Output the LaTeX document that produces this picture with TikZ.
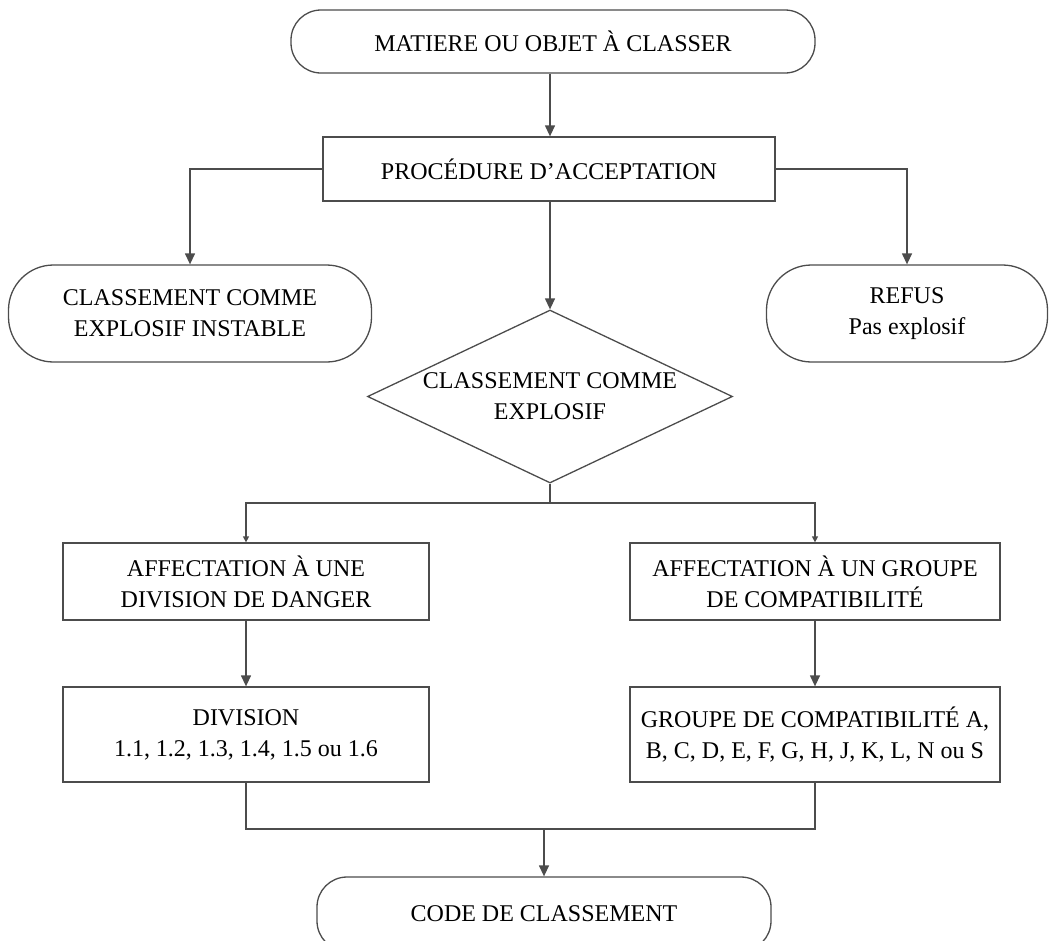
\documentclass[tikz,border=0pt]{standalone}
\usepackage{fontspec}
\setmainfont{Liberation Serif}
\usetikzlibrary{arrows.meta}
\usetikzlibrary{shapes}
\usetikzlibrary{calc}
\tikzstyle{block} = [draw = black!70, line width = 1.3pt, align = center, inner sep = 0]
\tikzstyle{box} = [block, rectangle]
\tikzstyle{terminal} = [block, rounded corners = 30pt]
\tikzstyle{big terminal} = [block, rounded corners = 45pt]
\tikzstyle{decision} = [block, diamond, aspect = 2.1]
\tikzstyle{link} = [draw = black!70, line width = 1.3pt]
\tikzstyle{flow} = [link, -{Triangle[length = 11pt, width = 10pt]}]
\tikzstyle{flow small} = [link, -{Triangle[length = 6pt, width = 6pt]}]

\begin{document}
\begin{tikzpicture}[x = 1pt, y = -1pt,
                    font = \fontsize{24}{31}\selectfont,
                   ]
    \useasboundingbox (0, 0) rectangle (1049, 940);

    \node [terminal, minimum width = 524, minimum height = 63] (start) at (553, 41.5)
        {MATIERE OU OBJET À CLASSER};
    \node [box, minimum width = 452, minimum height = 64] (accept) at (549, 169)
        {PROCÉDURE D’ACCEPTATION};
    \node [big terminal, minimum width = 363, minimum height = 97] (unstable) at (190, 313.5)
        {CLASSEMENT COMME\\EXPLOSIF INSTABLE};
    \node [big terminal, minimum width = 281, minimum height = 97] (refus) at (907, 313.5)
        {REFUS\\Pas explosif};
    \node [decision, minimum width = 365, minimum height = 173] (explosive) at (550, 396.5)
        {CLASSEMENT COMME\\EXPLOSIF};

    \node [box, minimum width = 366, minimum height = 77] (division) at (246, 581.5)
        {AFFECTATION À UNE\\DIVISION DE DANGER};
    \node [box, minimum width = 370, minimum height = 77] (group) at (815, 581.5)
        {AFFECTATION À UN GROUPE\\DE COMPATIBILITÉ};
    \node [box, minimum width = 366, minimum height = 95] (division list) at (246, 734.5)
        {DIVISION\\1.1, 1.2, 1.3, 1.4, 1.5 ou 1.6};
    \node [box, minimum width = 370, minimum height = 95] (group list) at (815, 734.5)
        {GROUPE DE COMPATIBILITÉ A,\\B, C, D, E, F, G, H, J, K, L, N ou S};
    \node [terminal, minimum width = 454, minimum height = 74] (code) at (544, 914)
        {CODE DE CLASSEMENT};

    \coordinate (fork) at (550, 503);
    \coordinate (join) at (544, 829);

    \draw [flow] (start.south -| explosive) -- (explosive |- accept.north);
    \draw [flow] (accept.west) -| (unstable.north);
    \draw [flow] (accept.east) -| (refus.north);
    \draw [flow] (explosive |- accept.south) -- (explosive.north);

    \draw [link] (explosive.south) -- (fork);
    \draw [flow small] (fork) -| (division.north);
    \draw [flow small] (fork) -| (group.north);
    \draw [flow] (division) -- (division list);
    \draw [flow] (group) -- (group list);

    \draw [link] (division list.south) |- (join) -| (group list.south);
    \draw [flow] (join) -- (code.north);
\end{tikzpicture}
\end{document}
